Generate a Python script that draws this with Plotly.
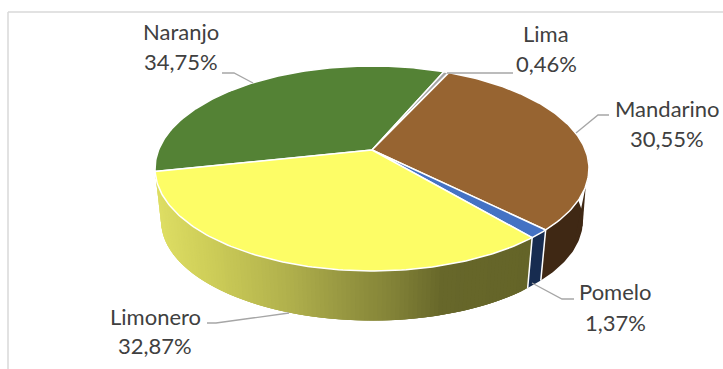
import numpy as np
import plotly.graph_objects as go

# Data
categories = ["Naranjo", "Lima", "Mandarino", "Pomelo", "Limonero"]
values = [34.75, 0.46, 30.55, 1.37, 32.87]

# Styles
top_colors = ["#548235", "#a5a5a5", "#976431", "#4472c4", "#fdfd66"]
START = 258.0
CX, CY = 372.0, 150.0
KX, PERSP, KY = 213.4, 0.1805, -72.1
LOWER_S, LOWER_D = 0.972, 57.1
TEXT = "#404040"
FONT = "Lato"
FSIZE = 22
LEADER = "#a6a6a6"
FRAME = "#d9d9d9"

def rim(theta_deg):
    t = np.radians(np.asarray(theta_deg, dtype=float))
    u, v = np.sin(t), np.cos(t)
    d = 1 + PERSP * v
    return CX + KX * u / d, (CY + KY * v) / d

def lower(x, y):
    return CX + (x - CX) * LOWER_S, y * LOWER_S + LOWER_D

def side_color(i, x):
    if categories[i] == "Mandarino":
        return "rgb(63,40,20)"
    if categories[i] == "Pomelo":
        return "rgb(23,44,80)"
    stops_x = [155, 210, 290, 360, 400, 445, 535]
    r = np.interp(x, stops_x, [222, 205, 176, 145, 128, 103, 100])
    b = np.interp(x, stops_x, [100, 88, 76, 62, 54, 42, 40])
    return f"rgb({r:.0f},{r:.0f},{b:.0f})"

total = sum(values)
edges = START + np.concatenate([[0], np.cumsum(values)]) / total * 360.0

fig = go.Figure()

def poly(xs, ys, fill, line, width):
    fig.add_trace(go.Scatter(x=list(xs), y=list(ys), mode="lines", fill="toself",
                             fillcolor=fill, line=dict(color=line, width=width),
                             hoverinfo="skip", showlegend=False))

# side wall: only the near half of the rim is visible; strips overlap so no seams show
for i, name in enumerate(categories):
    a0, a1 = edges[i] % 360, edges[i + 1] % 360
    if a1 < a0:
        continue
    lo, hi = max(a0, 85.0), a1
    if hi <= lo:
        continue
    if name != "Limonero":
        seg = np.linspace(lo, hi, 60)
        x, y = rim(seg)
        xl, yl = lower(x, y)
        c = side_color(i, x.mean())
        poly(np.r_[x, xl[::-1], x[0]], np.r_[y, yl[::-1], y[0]], c, c, 0)
        continue
    n = int(hi - lo)
    th = np.linspace(lo, hi, n + 1)
    for k in range(n):
        seg = np.linspace(th[k], th[min(k + 3, n)], 6)
        x, y = rim(seg)
        xl, yl = lower(x, y)
        c = side_color(i, rim([th[k]])[0][0])
        poly(np.r_[x, xl[::-1], x[0]], np.r_[y, yl[::-1], y[0]], c, c, 0)

# wall silhouette at the left and right extremes of the pie
silhouette = [("Mandarino", 110, 103, 118), ("Limonero", 251, 256, 245)]
for name, rim_a, low_a, low_b in silhouette:
    i = categories.index(name)
    xr, yr = rim([rim_a])
    xa, ya = lower(*rim([low_a]))
    xb, yb = lower(*rim([low_b]))
    c = side_color(i, xr[0])
    poly([xr[0], xa[0], xb[0], xr[0]], [yr[0], ya[0], yb[0], yr[0]], c, c, 0)

# separators on the wall between slices
for i in range(len(categories)):
    a = edges[i] % 360
    if 100 < a < 250:
        x, y = rim([a])
        xl, yl = lower(x, y)
        fig.add_trace(go.Scatter(x=[x[0], xl[0]], y=[y[0], yl[0]], mode="lines",
                                 line=dict(color="white", width=1.5),
                                 hoverinfo="skip", showlegend=False))

# top faces
for i, name in enumerate(categories):
    th = np.linspace(edges[i], edges[i + 1], max(3, int(edges[i + 1] - edges[i]) + 2))
    x, y = rim(th)
    poly(np.r_[CX, x, CX], np.r_[CY, y, CY], top_colors[i], "white", 1.5)

# leader lines (style positions)
leaders = {
    "Naranjo": ([222, 234, 253], [73, 73, 83]),
    "Lima": ([447, 513], [73, 73]),
    "Mandarino": ([576, 598, 609], [133, 115, 115]),
    "Pomelo": ([532, 562, 574], [283, 299, 299]),
    "Limonero": ([207, 216, 289], [323, 323, 313]),
}
for name in categories:
    lx, ly = leaders[name]
    fig.add_trace(go.Scatter(x=lx, y=ly, mode="lines", line=dict(color=LEADER, width=1.3),
                             hoverinfo="skip", showlegend=False))

# label centres: name line y, percent line y
label_pos = {
    "Naranjo": (181, 31, 61),
    "Lima": (546, 33, 63),
    "Mandarino": (667, 108, 138),
    "Pomelo": (615, 291, 322),
    "Limonero": (155, 316, 345),
}
annotations = []
for name, val in zip(categories, values):
    ax, y1, y2 = label_pos[name]
    pct = f"{val:.2f}%".replace(".", ",")
    for txt, ay in ((name, y1), (pct, y2)):
        annotations.append(dict(x=ax, y=ay, xref="x", yref="y", text=txt, showarrow=False,
                                xanchor="center", yanchor="middle",
                                font=dict(family=FONT, size=FSIZE, color=TEXT)))

shapes = [
    dict(type="line", xref="x", yref="y", x0=8, x1=723, y0=12, y1=12, line=dict(color=FRAME, width=1.5)),
    dict(type="line", xref="x", yref="y", x0=8, x1=8, y0=12, y1=369, line=dict(color=FRAME, width=1.5)),
]

fig.update_layout(
    width=723, height=369, autosize=False,
    margin=dict(l=0, r=0, t=0, b=0),
    paper_bgcolor="white", plot_bgcolor="white",
    xaxis=dict(range=[0, 723], visible=False, fixedrange=True),
    yaxis=dict(range=[369, 0], visible=False, fixedrange=True),
    showlegend=False, annotations=annotations, shapes=shapes,
)
fig.write_html("out.html", config={"displayModeBar": False},
               post_script="document.body.style.margin='0';document.body.style.overflow='hidden';")
